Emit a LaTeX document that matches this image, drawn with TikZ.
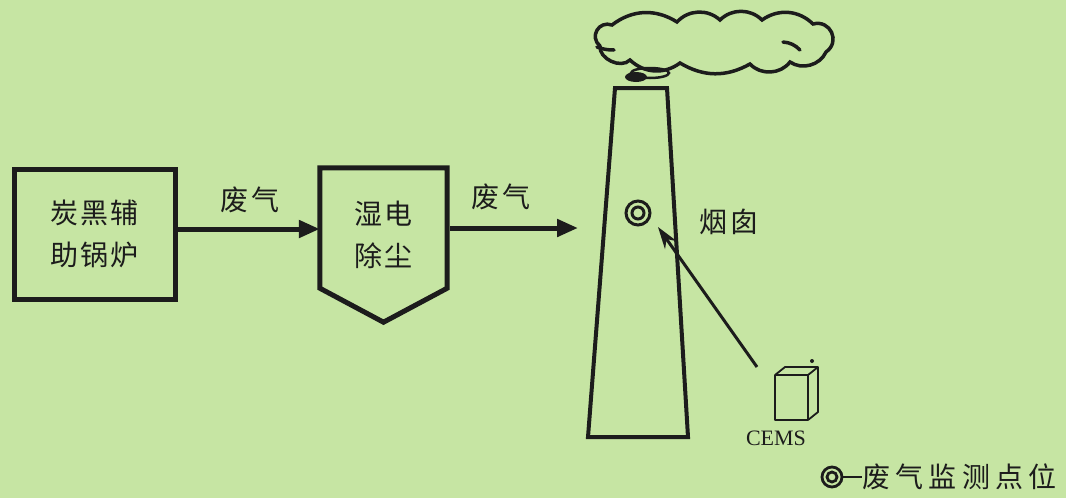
\documentclass[tikz,border=0pt]{standalone}
\usepackage{fontspec}
\usepackage{tikz}
\usetikzlibrary{arrows.meta}
\usetikzlibrary{calc}
\usetikzlibrary{positioning}
\setmainfont{Liberation Serif}
\newfontfamily\cjk[LetterSpace=8]{Noto Sans CJK SC}
\newfontfamily\cjkwide[LetterSpace=19]{Noto Sans CJK SC}
\definecolor{mgreen}{RGB}{198, 229, 163}
\definecolor{mink}{RGB}{28, 28, 28}
\tikzset{unitbox/.style = {draw = mink, line width = 5pt, minimum width = 161pt,
                           minimum height = 130pt, inner sep = 0}}
\tikzset{flow/.style = {draw = mink, line width = 5pt,
                        -{Triangle[length = 21pt, width = 17pt]}}}
\tikzset{cjktext/.style = {text = mink, align = center, inner sep = 0,
                           font = {\cjk\fontsize{28}{42}\selectfont}}}
\tikzset{puff/.style = {draw = mink, line width = 3.5pt, line cap = round}}

\begin{document}
\begin{tikzpicture}[x = 1pt, y = 1pt]
    \useasboundingbox (0, 0) rectangle (1066, -498);
    \fill [mgreen] (0, 0) rectangle (1066, -498);
    % boiler and wet electrostatic precipitator
    \node [unitbox] (boiler) at (94.5, -234) {};
    \node [cjktext] (boilertxt) at (boiler.center) {炭黑辅\\助锅炉};
    \node [minimum width = 127pt, minimum height = 120pt, inner sep = 0]
      (wesp) at (383.5, -228) {};
    \draw [mink, line width = 5pt, line join = miter]
      (wesp.north west) -- (wesp.north east) -- (wesp.south east)
      -- ($(wesp.south) + (0, -34)$) -- (wesp.south west) -- cycle;
    \node [cjktext] (wesptxt) at ($(wesp.center) + (0, -7)$) {湿电\\除尘};
    \coordinate (stackin) at (578, -228);
    \draw [flow] (boiler.east |- 0, -229) -- (wesp.west |- 0, -229);
    \draw [flow] ([xshift = 3pt] wesp.east |- 0, -228) -- (stackin);
    \node [cjktext] (gas1) at (250, -200) {废气};
    \node [cjktext] (gas2) at (501, -197) {废气};
    % stack with smoke
    \draw [mink, line width = 4pt, line join = miter]
      (588, -437) -- (615, -88) -- (667, -88) -- (688, -437) -- cycle;
    \node [cjktext] (stacktxt) at (729, -222) {烟囱};
    \fill [mink] (636, -77) ellipse (11 and 5);
    \draw [mink, line width = 2.5pt] (650, -73) ellipse (19 and 5);
    \draw [puff]
      (600, -46) to [bend left = 80, looseness = 1.5] (612, -25)
      to [bend left = 35] (677, -22) to [bend left = 45] (720, -20)
      to [bend left = 45] (762, -20) to [bend left = 40] (813, -24)
      to [bend left = 80, looseness = 1.5] (826, -52)
      to [bend left = 50] (790, -62) to [bend left = 50] (750, -64)
      to [bend left = 30] (680, -63) to [bend left = 40] (630, -60)
      to [bend left = 70] (600, -46);
    \draw [puff] (783, -42) to [bend left = 20] (800, -50);
    \draw [puff] (597, -47) to [bend right = 10] (614, -50);
    % measuring point
    \node [circle, draw = mink, line width = 3pt, minimum size = 24pt, inner sep = 0]
      (mp) at (638, -213) {};
    \draw [mink, line width = 3pt] (mp.center) circle (6);
    \coordinate (mptip) at (658, -227);
    % CEMS cabinet
    \draw [mink, line width = 1.8pt, line join = round]
      (775, -375) rectangle (808, -420)
      (775, -375) -- (785, -367) -- (818, -367) -- (818, -412) -- (808, -420)
      (808, -375) -- (818, -367);
    \fill [mink] (812, -361) circle (2);
    \coordinate (cems) at (757, -367);
    \node [text = mink, inner sep = 0, font = \fontsize{22}{24}\selectfont]
      (cemstxt) at (776, -438) {CEMS};
    \draw [mink, line width = 3pt, -{Stealth[length = 22pt, width = 14pt]}]
      (cems) -- (mptip);
    % legend
    \node [circle, draw = mink, line width = 2.8pt, minimum size = 20pt, inner sep = 0]
      (legmark) at (832, -477) {};
    \draw [mink, line width = 2.8pt] (legmark.center) circle (5);
    \node [text = mink, inner sep = 0, anchor = west,
           font = {\cjkwide\fontsize{28}{30}\selectfont}]
      (legend) at (862, -477) {废气监测点位};
    \draw [mink, line width = 2.5pt] (legmark.east) -- (legend.west);
\end{tikzpicture}
\end{document}
